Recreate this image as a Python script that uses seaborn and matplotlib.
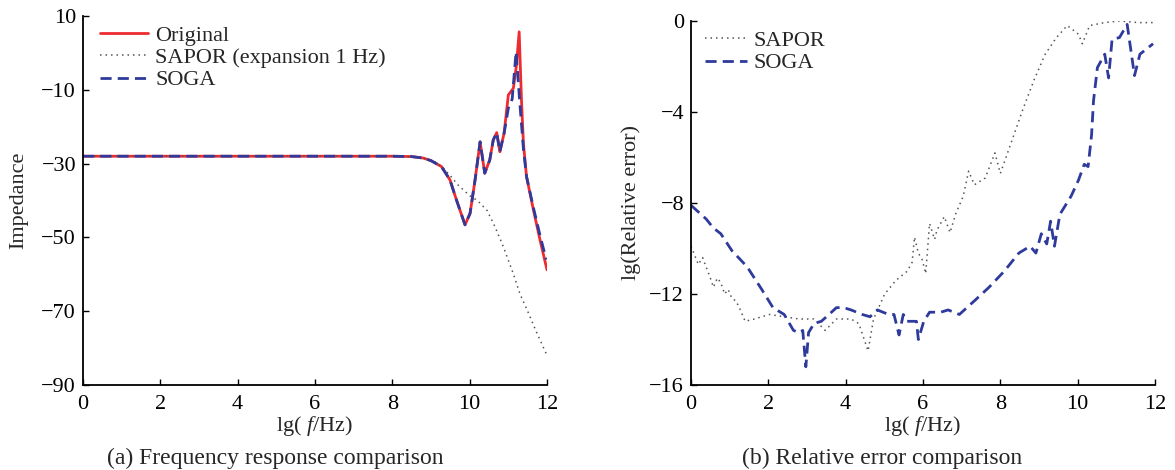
import matplotlib
matplotlib.use("Agg")
import matplotlib.pyplot as plt
import seaborn as sns
import pandas as pd

# (a) frequency response, lg(f/Hz) vs impedance
orig_x = [0, 4, 8, 8.5, 8.8, 9.0, 9.27, 9.49, 9.66, 9.88, 10.01, 10.14, 10.27, 10.39,
          10.52, 10.61, 10.70, 10.78, 10.89, 11.0, 11.13, 11.21, 11.28, 11.34, 11.39,
          11.47, 11.65, 11.82, 12.0]
orig_y = [-28, -28, -28, -28.1, -28.5, -29.2, -30.8, -34.4, -39.9, -46.6, -43.5, -34.4,
          -24.1, -32.6, -29.0, -23.6, -21.6, -26.8, -21.8, -11.4, -9.6, -3.3, 5.7, -12.8,
          -24.5, -33.5, -42.6, -50.7, -58.8]

soga_x = [0, 4, 8, 8.5, 8.8, 9.0, 9.27, 9.49, 9.66, 9.88, 10.01, 10.14, 10.27, 10.39,
          10.52, 10.61, 10.70, 10.78, 10.89, 11.0, 11.1, 11.2, 11.3, 11.39, 11.47,
          11.65, 11.82, 11.98]
soga_y = [-28, -28, -28, -28.1, -28.5, -29.2, -30.8, -34.4, -39.9, -46.6, -43.5, -34.4,
          -24.1, -32.6, -29.0, -23.6, -21.6, -26.8, -21.8, -15.0, -12.5, 0.3, -14.0,
          -26.0, -33.5, -42.0, -49.5, -56.0]

sapor_x = [0, 4, 8, 8.5, 8.8, 9.1, 9.3, 9.5, 9.7, 10.0, 10.2, 10.45, 10.65, 10.87, 11.1,
           11.3, 11.5, 11.7, 11.85, 12.0]
sapor_y = [-28, -28, -28, -28.1, -28.5, -29.5, -31, -33.3, -35.8, -38.7, -40, -42.7, -47,
           -52.5, -59, -65.3, -70, -75, -78.5, -82]

# (b) relative error
err_soga_x = [0, 0.39, 0.58, 0.77, 1.06, 1.45, 1.83, 2.12, 2.41, 2.65, 2.8, 2.89, 2.97,
              3.04, 3.18, 3.37, 3.57, 3.76, 3.95, 4.14, 4.43, 4.63, 4.82, 5.11, 5.25,
              5.38, 5.49, 5.59, 5.69, 5.83, 5.88, 6.02, 6.17, 6.46, 6.65, 6.94, 7.33,
              7.71, 8.1, 8.48, 8.77, 8.92, 9.06, 9.2, 9.3, 9.4, 9.54, 9.83, 10.02, 10.17,
              10.27, 10.36, 10.41, 10.51, 10.7, 10.8, 10.89, 11.08, 11.28, 11.47, 11.61,
              11.95]
err_soga_y = [-8.1, -8.7, -9.1, -9.35, -10.1, -10.8, -11.8, -12.6, -12.9, -13.6, -13.7,
              -13.6, -15.2, -13.7, -13.3, -13.2, -12.9, -12.6, -12.6, -12.7, -12.9,
              -13.0, -12.7, -12.9, -12.9, -13.8, -12.9, -13.2, -13.2, -13.2, -14.0,
              -13.2, -12.8, -12.8, -12.7, -12.9, -12.3, -11.7, -11.0, -10.2, -9.9, -10.2,
              -9.35, -9.8, -8.8, -9.9, -8.5, -7.7, -7.0, -6.3, -6.4, -5.0, -3.5, -2.05,
              -1.46, -2.5, -0.8, -0.73, -0.15, -2.4, -1.46, -1.0]

err_sapor_x = [0, 0.19, 0.3, 0.39, 0.5, 0.58, 0.68, 0.77, 0.87, 0.96, 1.06, 1.16, 1.25,
               1.4, 1.64, 2.02, 2.41, 2.8, 3.18, 3.47, 3.76, 4.14, 4.34, 4.58, 4.72,
               5.01, 5.3, 5.59, 5.72, 5.78, 5.88, 5.98, 6.07, 6.17, 6.3, 6.36, 6.55,
               6.7, 6.84, 7.04, 7.18, 7.33, 7.61, 7.86, 8.0, 8.29, 8.58, 8.87, 9.16,
               9.45, 9.73, 10.02, 10.12, 10.31, 10.7, 11.08, 11.57, 12.0]
err_sapor_y = [-9.9, -10.7, -10.4, -10.8, -11.3, -11.7, -11.3, -11.5, -12.0, -11.8,
               -12.2, -12.3, -12.6, -13.2, -13.1, -12.9, -13.0, -13.1, -13.1, -13.6,
               -13.1, -13.1, -13.3, -14.5, -13.1, -12.0, -11.4, -11.0, -10.6, -9.5,
               -10.2, -10.5, -11.1, -8.9, -9.6, -9.2, -8.6, -9.3, -8.5, -7.7, -6.6, -7.2,
               -6.9, -5.8, -6.7, -5.3, -3.9, -2.6, -1.46, -0.73, -0.2, -0.58, -1.0, -0.2,
               -0.07, 0.0, -0.07, -0.07]

red = "#ee2b30"
blue = "#2e3a9c"
gray = "#555555"
dotted = (0, (1, 2.6))
dashed = (0, (4, 2.2))
fs = 16

sns.set_style("ticks")
plt.rcParams["font.family"] = ["Liberation Serif", "DejaVu Serif"]
plt.rcParams["mathtext.fontset"] = "custom"
plt.rcParams["mathtext.rm"] = "Liberation Serif"
plt.rcParams["mathtext.it"] = "Liberation Serif:italic"

fig = plt.figure(figsize=(11.75, 4.7), dpi=100)
ax1 = fig.add_axes([83 / 1175, 1 - 385 / 470, 464 / 1175, 369 / 470])
ax2 = fig.add_axes([691 / 1175, 1 - 385 / 470, 464 / 1175, 364 / 470])

sns.lineplot(x=orig_x, y=orig_y, ax=ax1, color=red, lw=2, label="Original",
             estimator=None)
sns.lineplot(x=sapor_x, y=sapor_y, ax=ax1, color=gray, lw=1.1, linestyle=dotted,
             label="SAPOR (expansion 1 Hz)", estimator=None)
sns.lineplot(x=soga_x, y=soga_y, ax=ax1, color=blue, lw=2, linestyle=dashed,
             label="SOGA", estimator=None)

sns.lineplot(x=err_sapor_x, y=err_sapor_y, ax=ax2, color=gray, lw=1.1,
             linestyle=dotted, label="SAPOR", estimator=None)
sns.lineplot(x=err_soga_x, y=err_soga_y, ax=ax2, color=blue, lw=2, linestyle=dashed,
             label="SOGA", estimator=None)

ax1.set_xlim(0, 12)
ax1.set_ylim(-90, 10)
ax1.set_yticks([10, -10, -30, -50, -70, -90])
ax2.set_xlim(0, 12)
ax2.set_ylim(-16, 0)
ax2.set_yticks([0, -4, -8, -12, -16])

for ax in (ax1, ax2):
    ax.set_xticks(range(0, 13, 2))
    sns.despine(ax=ax)
    for s in ("left", "bottom"):
        ax.spines[s].set_linewidth(1.3)
        ax.spines[s].set_color("black")
    ax.tick_params(direction="in", length=4, width=1, labelsize=fs, pad=5,
                   colors="black")
    ax.tick_params(axis="x", pad=7)
    ax.set_xlabel(r"lg( $f$/Hz)", fontsize=fs, labelpad=0)

ax1.set_ylabel("Impedance", fontsize=fs)
ax1.yaxis.set_label_coords(-0.119, 0.5)
ax2.set_ylabel("lg(Relative error)", fontsize=fs)
ax2.yaxis.set_label_coords(-0.108, 0.5)

ax1.legend(loc="upper left", bbox_to_anchor=(0.037, 0.975), frameon=False,
           fontsize=fs, handlelength=2.15, handletextpad=0.32, labelspacing=0.08,
           borderpad=0, borderaxespad=0)
ax2.legend(loc="upper left", bbox_to_anchor=(0.030, 0.975), frameon=False,
           fontsize=fs, handlelength=1.9, handletextpad=0.3, labelspacing=0.1,
           borderpad=0, borderaxespad=0)

fig.text(275 / 1175, 1 - 458 / 470, "(a) Frequency response comparison",
         fontsize=17, ha="center", va="center")
fig.text(882 / 1175, 1 - 458 / 470, "(b) Relative error comparison",
         fontsize=17, ha="center", va="center")

fig.savefig("out.png", dpi=100)
